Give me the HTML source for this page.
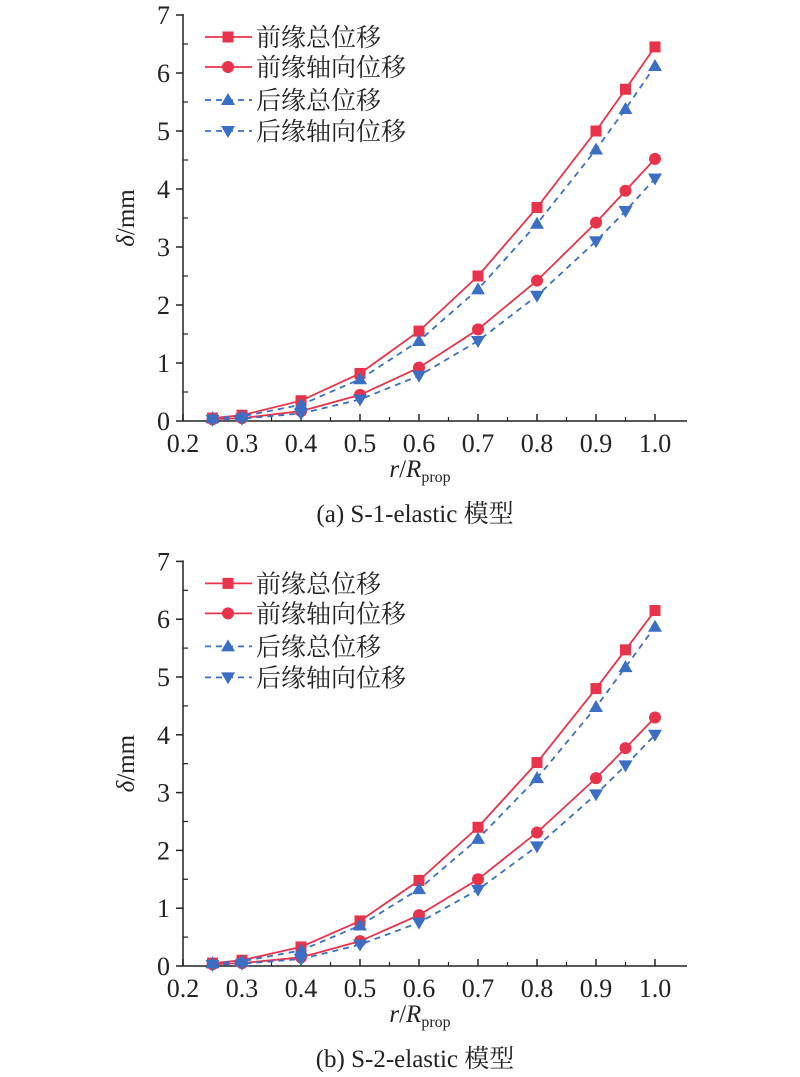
<!DOCTYPE html>
<html><head><meta charset="utf-8"><style>
html,body{margin:0;padding:0;background:#fff;}
svg text{font-family:"Liberation Serif","Noto Serif CJK SC",serif;fill:#222;}
</style></head><body>
<svg id="s" width="800" height="1072" xmlns="http://www.w3.org/2000/svg"></svg>
<script>
const s=document.getElementById('s');let h='';
const R='#e8334a',B='#3a6fc4';
const xs=[0.25,0.3,0.4,0.5,0.6,0.7,0.8,0.9,0.95,1.0];
function chart(y0,unit,data,cap){
 const X=v=>183+(v-0.2)*590,Y=v=>y0-v*unit;
 h+=`<line x1="183" y1="${Y(7)-1}" x2="183" y2="${y0}" stroke="#222" stroke-width="1.5"/>`;
 h+=`<line x1="183" y1="${y0}" x2="687" y2="${y0}" stroke="#222" stroke-width="1.5"/>`;
 for(let i=0;i<=7;i++){h+=`<line x1="176" y1="${Y(i)}" x2="183" y2="${Y(i)}" stroke="#222" stroke-width="1.5"/><text x="170" y="${Y(i)+9}" font-size="26" text-anchor="end">${i}</text>`;
  if(i<7)h+=`<line x1="183" y1="${Y(i+0.5)}" x2="188" y2="${Y(i+0.5)}" stroke="#222" stroke-width="1.2"/>`;}
 for(let i=2;i<=10;i++){const x=X(i/10);h+=`<line x1="${x}" y1="${y0}" x2="${x}" y2="${y0-7}" stroke="#222" stroke-width="1.5"/><text x="${x}" y="${y0+31}" font-size="26" text-anchor="middle">${(i/10).toFixed(1)}</text>`;
  if(i<10)h+=`<line x1="${X(i/10+0.05)}" y1="${y0}" x2="${X(i/10+0.05)}" y2="${y0-4}" stroke="#222" stroke-width="1.2"/>`;}
 h+=`<text x="420" y="${y0+56}" font-size="25" text-anchor="middle"><tspan font-style="italic">r</tspan>/<tspan font-style="italic">R</tspan><tspan font-size="16" dy="5">prop</tspan></text>`;
 h+=`<text x="415" y="${y0+101}" font-size="25" text-anchor="middle">${cap}</text>`;
 h+=`<text transform="translate(134 ${Y(3.5)}) rotate(-90)" font-size="25" text-anchor="middle"><tspan font-style="italic">δ</tspan>/mm</text>`;
 const sty=[[R,'','sq'],[R,'','ci'],[B,'6,5','up'],[B,'6,5','dn']];
 function mk(t,x,y,c){if(t=='sq')return `<rect x="${x-5.5}" y="${y-5.5}" width="11" height="11" fill="${c}"/>`;
  if(t=='ci')return `<circle cx="${x}" cy="${y}" r="6" fill="${c}"/>`;
  if(t=='up')return `<polygon points="${x},${y-7} ${x-7},${y+5} ${x+7},${y+5}" fill="${c}"/>`;
  return `<polygon points="${x},${y+7} ${x-7},${y-5} ${x+7},${y-5}" fill="${c}"/>`;}
 data.forEach((d,k)=>{const [c,da,t]=sty[k];
  h+=`<polyline fill="none" stroke="${c}" stroke-width="1.8" stroke-dasharray="${da}" points="${d.map((v,i)=>X(xs[i])+','+Y(v)).join(' ')}"/>`;
  d.forEach((v,i)=>h+=mk(t,X(xs[i]),Y(v),c));});
 const names=['前缘总位移','前缘轴向位移','后缘总位移','后缘轴向位移'];
 const ly=[Y(7)+22,Y(7)+52,Y(7)+85,Y(7)+116];
 names.forEach((n,k)=>{const [c,da,t]=sty[k];const y=ly[k];
  h+=`<line x1="205" y1="${y}" x2="252" y2="${y}" stroke="${c}" stroke-width="1.8" stroke-dasharray="${da}"/>`+mk(t,228,y,c);
  h+=`<text x="256" y="${y+9}" font-size="25">${n}</text>`;});
}
chart(421,58,[[0.05,0.1,0.35,0.82,1.55,2.5,3.68,5.0,5.72,6.45],[0.03,0.05,0.17,0.45,0.92,1.58,2.42,3.42,3.97,4.52],[0.05,0.08,0.28,0.72,1.38,2.27,3.4,4.68,5.38,6.12],[0.02,0.04,0.13,0.37,0.78,1.38,2.16,3.1,3.62,4.18]],'(a) S-1-elastic 模型');
chart(966,57.8,[[0.05,0.1,0.33,0.78,1.48,2.4,3.52,4.8,5.47,6.15],[0.03,0.05,0.15,0.43,0.88,1.5,2.31,3.25,3.77,4.3],[0.05,0.08,0.27,0.7,1.33,2.2,3.25,4.48,5.17,5.87],[0.02,0.04,0.12,0.37,0.75,1.32,2.07,2.97,3.47,4.0]],'(b) S-2-elastic 模型');
s.innerHTML=h;
</script>
</body></html>
